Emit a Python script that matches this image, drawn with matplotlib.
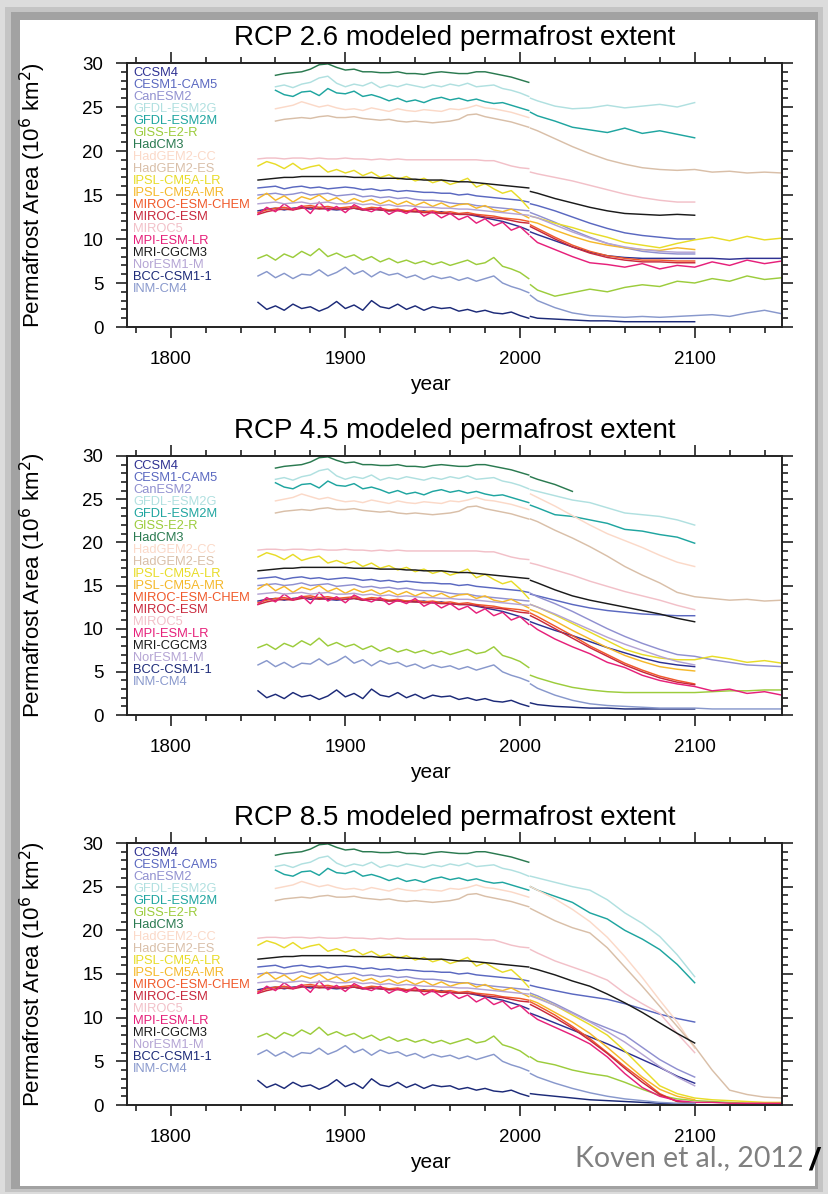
import numpy as np
import matplotlib
matplotlib.use('Agg')
import matplotlib.pyplot as plt
from matplotlib.patches import Rectangle
from matplotlib.ticker import MultipleLocator

N = None

models = ['CCSM4', 'CESM1-CAM5', 'CanESM2', 'GFDL-ESM2G', 'GFDL-ESM2M', 'GISS-E2-R',
          'HadCM3', 'HadGEM2-CC', 'HadGEM2-ES', 'IPSL-CM5A-LR', 'IPSL-CM5A-MR',
          'MIROC-ESM-CHEM', 'MIROC-ESM', 'MIROC5', 'MPI-ESM-LR', 'MRI-CGCM3',
          'NorESM1-M', 'BCC-CSM1-1', 'INM-CM4']

colors = ['#2e3192', '#5a68c0', '#9090d0', '#b0e0e0', '#1fa5a0', '#9ccc3c',
          '#2a7a50', '#fbd9c8', '#d9bfa8', '#e8dc28', '#f5b82a',
          '#f0592a', '#c8283c', '#f2c0c8', '#e6207a', '#1a1a1a',
          '#b4a4d4', '#1c2a78', '#8898cc']

hist_years = [1850, 1855, 1860, 1865, 1870, 1875, 1880, 1885, 1890, 1895, 1900, 1905,
              1910, 1915, 1920, 1925, 1930, 1935, 1940, 1945, 1950, 1955, 1960, 1965,
              1970, 1975, 1980, 1985, 1990, 1995, 2000, 2005]

fut_years = [2006, 2010, 2020, 2030, 2040, 2050, 2060, 2070, 2080, 2090, 2100,
             2110, 2120, 2130, 2140, 2150]

hist_area = [
    [13.2, 13.4, 13.5, 13.3, 13.5, 13.6, 13.4, 13.5, 13.4, 13.3, 13.4, 13.5, 13.3, 13.4, 13.3, 13.2, 13.3, 13.2, 13.1, 13.2, 13.0, 13.1, 12.9, 12.8, 12.8, 12.6, 12.4, 12.2, 12.0, 11.7, 11.4, 11.0],
    [15.8, 15.9, 16.0, 15.7, 15.9, 16.0, 15.8, 15.9, 15.7, 15.8, 15.9, 15.8, 15.6, 15.7, 15.5, 15.6, 15.4, 15.5, 15.4, 15.3, 15.3, 15.2, 15.2, 15.0, 15.1, 14.9, 14.8, 14.7, 14.6, 14.5, 14.4, 14.2],
    [15.0, 15.1, 15.2, 15.0, 15.1, 15.3, 15.0, 15.1, 15.2, 14.9, 15.0, 15.1, 14.8, 14.9, 14.7, 14.8, 14.6, 14.7, 14.5, 14.4, 14.4, 14.3, 14.1, 14.0, 14.0, 13.8, 13.7, 13.6, 13.5, 13.4, 13.3, 13.2],
    [N, N, 27.3, 27.5, 27.2, 27.6, 27.8, 28.3, 28.5, 27.7, 27.3, 27.6, 27.4, 27.8, 27.2, 27.5, 27.3, 27.6, 27.4, 27.2, 27.5, 27.3, 27.6, 27.4, 27.7, 27.3, 27.4, 27.5, 27.1, 26.9, 26.6, 26.2],
    [N, N, 26.9, 26.4, 26.2, 26.7, 26.8, 26.3, 27.1, 26.6, 26.5, 26.8, 26.2, 26.4, 26.1, 25.7, 26.0, 25.6, 25.8, 25.5, 25.9, 26.1, 25.8, 26.0, 25.7, 25.9, 25.6, 25.4, 25.5, 25.2, 24.9, 24.6],
    [7.8, 8.2, 7.6, 8.3, 7.9, 8.6, 8.1, 8.9, 8.0, 8.4, 7.9, 8.2, 7.6, 8.0, 7.4, 7.8, 7.3, 7.6, 7.2, 7.5, 7.1, 7.4, 7.0, 7.3, 7.6, 7.1, 7.3, 7.9, 6.9, 6.6, 6.2, 5.5],
    [N, N, 28.6, 28.8, 28.9, 29.0, 29.3, 29.8, 29.9, 29.5, 29.2, 29.3, 29.0, 29.0, 28.9, 28.9, 29.0, 28.8, 28.8, 28.7, 28.9, 29.0, 28.9, 28.8, 28.8, 29.0, 29.0, 28.8, 28.6, 28.4, 28.1, 27.8],
    [N, N, 24.8, 25.0, 25.2, 25.6, 25.3, 25.0, 25.2, 24.9, 24.7, 24.8, 24.6, 24.9, 24.7, 24.5, 24.8, 24.6, 24.5, 24.7, 24.6, 24.5, 24.8, 24.7, 24.9, 25.2, 24.9, 24.8, 24.6, 24.4, 24.1, 23.8],
    [N, N, 23.4, 23.6, 23.7, 23.8, 23.7, 23.9, 24.0, 23.8, 23.8, 23.9, 23.7, 23.6, 23.5, 23.6, 23.4, 23.3, 23.4, 23.3, 23.2, 23.3, 23.4, 23.6, 24.1, 24.2, 23.9, 23.7, 23.5, 23.3, 23.0, 22.7],
    [18.3, 18.8, 18.5, 18.0, 18.6, 17.9, 18.2, 18.4, 17.6, 17.9, 17.5, 17.8, 17.2, 17.6, 17.0, 17.3, 16.8, 17.1, 16.6, 16.9, 16.4, 16.7, 16.2, 16.5, 16.9, 15.9, 16.3, 15.7, 15.2, 15.5, 14.6, 13.5],
    [14.6, 15.2, 14.4, 14.9, 14.2, 14.8, 14.5, 15.0, 14.3, 14.7, 14.1, 14.6, 14.2, 14.5, 14.0, 14.4, 13.9, 14.3, 13.8, 14.2, 13.7, 14.1, 13.6, 13.9, 14.0, 13.5, 13.8, 13.3, 13.1, 13.4, 12.9, 12.4],
    [13.0, 13.3, 13.5, 13.6, 13.4, 13.7, 13.8, 13.6, 13.7, 13.5, 13.6, 13.7, 13.4, 13.6, 13.5, 13.3, 13.4, 13.2, 13.3, 13.1, 13.2, 13.0, 13.1, 12.9, 13.0, 12.8, 12.7, 12.6, 12.4, 12.3, 12.2, 12.0],
    [12.8, 13.1, 13.3, 13.4, 13.3, 13.5, 13.6, 13.4, 13.5, 13.4, 13.4, 13.5, 13.3, 13.4, 13.3, 13.2, 13.2, 13.1, 13.1, 13.0, 13.0, 12.9, 12.9, 12.8, 12.8, 12.7, 12.5, 12.4, 12.3, 12.1, 11.9, 11.8],
    [19.1, 19.2, 19.2, 19.1, 19.2, 19.2, 19.1, 19.2, 19.1, 19.1, 19.2, 19.1, 19.1, 19.0, 19.1, 19.0, 19.1, 19.0, 19.0, 19.0, 19.0, 19.0, 19.0, 19.0, 19.0, 19.0, 18.9, 18.9, 18.6, 18.3, 18.1, 18.0],
    [12.8, 13.6, 13.1, 14.0, 13.3, 13.8, 12.9, 14.2, 13.2, 13.7, 13.0, 13.9, 13.4, 13.1, 13.6, 12.8, 13.3, 12.9, 13.5, 12.6, 13.1, 12.4, 12.9, 12.2, 12.6, 11.8, 12.3, 11.5, 11.9, 11.0, 11.4, 10.5],
    [16.7, 16.8, 16.9, 17.0, 17.0, 17.1, 17.1, 17.1, 17.1, 17.1, 17.1, 17.0, 17.0, 17.0, 16.9, 16.9, 16.9, 16.8, 16.8, 16.7, 16.7, 16.7, 16.6, 16.5, 16.5, 16.4, 16.3, 16.2, 16.1, 16.0, 15.9, 15.8],
    [14.0, 14.1, 14.2, 14.0, 14.1, 14.2, 14.0, 14.1, 14.2, 14.0, 14.0, 14.1, 13.9, 14.0, 13.8, 13.9, 13.7, 13.8, 13.7, 13.6, 13.6, 13.5, 13.5, 13.4, 13.4, 13.3, 13.2, 13.1, 13.0, 12.9, 12.8, 12.7],
    [2.8, 2.0, 2.4, 1.9, 2.6, 2.1, 2.3, 1.8, 2.2, 2.9, 2.1, 2.5, 1.9, 3.0, 2.3, 2.1, 2.6, 2.0, 2.4, 1.9, 2.3, 2.1, 2.2, 1.8, 2.0, 1.7, 1.9, 1.6, 1.5, 1.7, 1.3, 1.0],
    [5.8, 6.3, 5.6, 6.1, 5.5, 6.0, 5.9, 6.5, 5.8, 6.2, 6.8, 6.0, 6.4, 5.7, 6.3, 5.9, 6.1, 5.6, 5.9, 5.4, 5.8, 5.5, 5.7, 5.3, 5.6, 5.2, 5.5, 5.8, 5.0, 4.6, 4.3, 3.9],
]

rcp26_area = [
    [10.8, 10.5, 9.8, 9.1, 8.5, 8.1, 7.9, 7.8, 7.8, 7.8, 7.8, 7.8, 7.7, 7.8, 7.8, 7.8],
    [14.0, 13.8, 13.2, 12.5, 11.8, 11.2, 10.7, 10.4, 10.2, 10.0, 10.0, N, N, N, N, N],
    [13.0, 12.7, 11.9, 11.0, 10.2, 9.5, 9.0, 8.6, 8.4, 8.3, 8.3, N, N, N, N, N],
    [26.0, 25.7, 25.1, 24.8, 24.9, 25.2, 24.9, 25.1, 25.3, 25.0, 25.5, N, N, N, N, N],
    [24.4, 24.0, 23.4, 22.7, 22.4, 22.1, 22.6, 22.0, 22.3, 21.9, 21.5, N, N, N, N, N],
    [4.8, 4.2, 3.5, 3.9, 4.3, 4.0, 4.5, 4.8, 4.6, 5.2, 5.0, 5.5, 5.2, 5.8, 5.4, 5.6],
    [N, N, N, N, N, N, N, N, N, N, N, N, N, N, N, N],
    [N, N, N, N, N, N, N, N, N, N, N, N, N, N, N, N],
    [22.6, 22.3, 21.4, 20.5, 19.7, 19.0, 18.5, 18.1, 17.9, 17.8, 17.9, 17.6, 17.7, 17.5, 17.6, 17.5],
    [12.6, 12.4, 11.8, 11.3, 10.7, 10.2, 9.6, 9.3, 9.0, 9.5, 9.9, 10.2, 9.8, 10.3, 9.9, 10.1],
    [12.0, 11.8, 11.0, 10.3, 9.7, 9.3, 9.0, 8.8, 8.7, 9.0, 8.8, N, N, N, N, N],
    [11.6, 11.2, 10.2, 9.3, 8.6, 8.1, 7.8, 7.6, 7.6, 7.5, 7.5, N, N, N, N, N],
    [11.4, 11.0, 10.0, 9.1, 8.4, 7.9, 7.6, 7.4, 7.4, 7.3, 7.3, N, N, N, N, N],
    [17.6, 17.4, 17.0, 16.6, 16.1, 15.6, 15.1, 14.7, 14.4, 14.2, 14.2, N, N, N, N, N],
    [10.3, 9.6, 8.8, 8.0, 7.3, 7.1, 6.8, 7.2, 6.6, 7.0, 6.8, 7.4, 7.0, 7.6, 7.2, 7.5],
    [15.4, 15.2, 14.6, 14.1, 13.6, 13.2, 12.9, 12.8, 12.7, 12.8, 12.7, N, N, N, N, N],
    [12.6, 12.4, 11.6, 10.8, 10.1, 9.5, 9.1, 8.8, 8.6, 8.5, 8.5, N, N, N, N, N],
    [1.2, 1.0, 0.9, 0.8, 0.7, 0.7, 0.6, 0.6, 0.6, 0.6, 0.6, N, N, N, N, N],
    [3.6, 3.0, 2.2, 1.6, 1.3, 1.2, 1.1, 1.2, 1.1, 1.2, 1.3, 1.4, 1.2, 1.6, 1.9, 1.5],
]

rcp45_area = [
    [10.8, 10.5, 9.8, 9.2, 8.5, 7.8, 7.2, 6.6, 6.1, 5.8, 5.6, N, N, N, N, N],
    [14.0, 13.8, 13.3, 12.8, 12.4, 12.1, 11.9, 11.7, 11.6, 11.5, 11.5, N, N, N, N, N],
    [14.1, 13.7, 12.9, 12.0, 11.0, 10.0, 9.1, 8.3, 7.6, 7.0, 6.8, 6.4, 6.1, 5.8, 5.7, 5.6],
    [26.1, 25.9, 25.4, 24.9, 24.6, 24.0, 23.4, 23.2, 23.0, 22.6, 22.0, N, N, N, N, N],
    [24.3, 24.0, 23.2, 23.0, 22.6, 22.2, 21.5, 21.3, 20.9, 20.6, 19.9, N, N, N, N, N],
    [4.6, 4.3, 3.7, 3.2, 2.9, 2.7, 2.6, 2.6, 2.6, 2.6, 2.6, 2.7, 2.8, 2.8, 2.9, 2.9],
    [27.6, 27.3, 26.7, 25.9, N, N, N, N, N, N, N, N, N, N, N, N],
    [25.6, 25.2, 24.2, 23.1, 22.0, 21.0, 20.2, 19.4, 18.5, 17.7, 17.2, N, N, N, N, N],
    [22.7, 22.4, 21.4, 20.5, 19.5, 18.4, 17.2, 16.2, 15.3, 14.2, 13.7, 13.5, 13.3, 13.4, 13.2, 13.3],
    [12.8, 12.5, 11.6, 10.6, 9.6, 8.6, 7.6, 7.0, 6.6, 6.4, 6.4, 6.8, 6.5, 6.1, 6.3, 6.0],
    [12.2, 11.9, 10.9, 9.8, 8.8, 7.8, 6.9, 6.2, 5.6, 5.3, 5.1, N, N, N, N, N],
    [11.8, 11.4, 10.3, 9.2, 8.0, 7.0, 6.0, 5.2, 4.5, 4.0, 3.6, N, N, N, N, N],
    [11.5, 11.1, 10.0, 8.9, 7.8, 6.8, 5.8, 5.0, 4.3, 3.8, 3.5, N, N, N, N, N],
    [17.6, 17.4, 16.8, 16.2, 15.5, 14.9, 14.3, 13.8, 13.3, 12.7, 12.2, N, N, N, N, N],
    [10.5, 9.9, 8.8, 7.9, 7.1, 6.1, 5.5, 4.6, 4.0, 3.6, 3.3, 2.8, 3.0, 2.5, 2.7, 2.3],
    [15.6, 15.3, 14.5, 13.8, 13.3, 12.9, 12.5, 12.1, 11.7, 11.2, 10.8, N, N, N, N, N],
    [12.8, 12.5, 11.7, 10.8, 9.9, 9.0, 8.2, 7.5, 6.8, 6.2, 5.8, N, N, N, N, N],
    [1.4, 1.2, 1.0, 0.9, 0.8, 0.8, 0.7, 0.7, 0.7, 0.7, 0.7, N, N, N, N, N],
    [3.6, 3.1, 2.3, 1.7, 1.3, 1.1, 1.0, 0.9, 0.8, 0.8, 0.8, 0.7, 0.7, 0.7, 0.7, 0.7],
]

rcp85_area = [
    [10.5, 10.2, 9.4, 8.6, 7.8, 7.0, 6.1, 5.2, 4.3, 3.3, 2.5, N, N, N, N, N],
    [13.7, 13.5, 13.1, 12.7, 12.4, 12.1, 11.6, 11.0, 10.4, 9.9, 9.5, N, N, N, N, N],
    [12.8, 12.5, 11.6, 10.6, 9.6, 8.8, 8.0, 6.6, 5.2, 4.1, 3.2, N, N, N, N, N],
    [26.2, 26.0, 25.5, 25.0, 24.6, 23.5, 22.0, 20.8, 19.3, 17.2, 14.7, N, N, N, N, N],
    [25.0, 24.6, 23.9, 23.2, 22.0, 21.3, 20.0, 19.0, 17.8, 16.1, 14.0, N, N, N, N, N],
    [5.5, 5.0, 4.6, 4.0, 3.6, 3.3, 2.6, 1.8, 1.1, 0.7, 0.5, 0.4, 0.3, 0.2, 0.2, 0.1],
    [N, N, N, N, N, N, N, N, N, N, N, N, N, N, N, N],
    [25.0, 24.6, 23.6, 22.4, 21.0, 19.2, 17.0, 14.6, 12.0, 9.5, 6.5, N, N, N, N, N],
    [22.5, 22.1, 21.1, 20.3, 19.7, 18.0, 15.8, 13.6, 11.3, 9.0, 6.7, 4.0, 1.7, 1.2, 0.9, 0.8],
    [12.6, 12.3, 11.4, 10.3, 9.2, 8.0, 6.2, 4.2, 2.2, 1.3, 0.8, 0.6, 0.5, 0.4, 0.3, 0.3],
    [12.0, 11.7, 10.6, 9.5, 8.2, 6.6, 4.9, 3.2, 1.8, 1.0, 0.6, N, N, N, N, N],
    [11.8, 11.4, 10.3, 9.0, 7.6, 6.0, 4.4, 2.9, 1.3, 0.4, 0.2, N, N, N, N, N],
    [11.5, 11.1, 10.0, 8.8, 7.4, 5.9, 4.2, 2.6, 1.2, 0.4, 0.2, N, N, N, N, N],
    [17.8, 17.4, 16.5, 15.8, 15.1, 14.3, 12.8, 11.6, 10.5, 8.2, 6.0, N, N, N, N, N],
    [10.4, 9.8, 8.9, 8.0, 7.0, 5.5, 3.6, 2.0, 1.0, 0.5, 0.3, 0.3, 0.2, 0.2, 0.2, 0.2],
    [15.7, 15.5, 14.9, 14.2, 13.6, 12.7, 11.7, 10.6, 9.4, 8.2, 7.1, N, N, N, N, N],
    [12.5, 12.2, 11.4, 10.5, 9.5, 8.4, 7.2, 5.8, 4.4, 3.2, 2.2, N, N, N, N, N],
    [1.3, 1.2, 1.0, 0.8, 0.6, 0.5, 0.4, 0.3, 0.2, 0.1, 0.1, N, N, N, N, N],
    [3.6, 3.2, 2.5, 1.9, 1.4, 1.0, 0.7, 0.5, 0.3, 0.2, 0.2, N, N, N, N, N],
]

titles = ['RCP 2.6 modeled permafrost extent',
          'RCP 4.5 modeled permafrost extent',
          'RCP 8.5 modeled permafrost extent']
scenarios = [rcp26_area, rcp45_area, rcp85_area]

# ---------------------------------------------------------------- figure
W, H = 829, 1194
plt.rcParams['font.family'] = ['Liberation Sans', 'DejaVu Sans']
fig = plt.figure(figsize=(W / 100, H / 100), dpi=100)
fig.patch.set_facecolor('#dcdcdc')


def frect(x0, y0, x1, y1, color, z=0):
    fig.add_artist(Rectangle((x0 / W, 1 - y1 / H), (x1 - x0) / W, (y1 - y0) / H,
                             transform=fig.transFigure, facecolor=color,
                             edgecolor='none', zorder=z))


# slide shadow and white page
frect(5, 7, 823, 1192, '#c4c4c4', -3)
frect(11, 12, 818, 1189, '#a2a2a2', -2)
frect(20, 20, 815, 1186, 'white', -1)

# axes pixel boxes: left, top, right, bottom
boxes = [(127, 63, 782, 327), (127, 456, 782, 715), (127, 843, 782, 1105)]

for k, (box, fut, title) in enumerate(zip(boxes, scenarios, titles)):
    l, t, r, b = box
    ax = fig.add_axes([l / W, 1 - b / H, (r - l) / W, (b - t) / H])
    hpx = b - t
    for m in range(len(models)):
        hv = np.array(hist_area[m], dtype=float)
        fv = np.array(fut[m], dtype=float)
        ax.plot(hist_years, hv, color=colors[m], lw=1.05, solid_joinstyle='round')
        ax.plot(fut_years, fv, color=colors[m], lw=1.05, solid_joinstyle='round')
    ax.set_xlim(1775, 2150)
    ax.set_ylim(0, 30)
    ax.xaxis.set_major_locator(MultipleLocator(100))
    ax.xaxis.set_minor_locator(MultipleLocator(20))
    ax.yaxis.set_major_locator(MultipleLocator(5))
    ax.yaxis.set_minor_locator(MultipleLocator(1))
    ax.tick_params(which='both', direction='out', top=True, right=True,
                   labeltop=False, labelright=False, width=1.2, color='#222222')
    ax.tick_params(which='major', length=8, labelsize=13.5, pad=9)
    ax.tick_params(which='minor', length=4)
    for s in ax.spines.values():
        s.set_linewidth(1.4)
        s.set_color('#222222')
    ax.set_ylabel('Permafrost Area (10$^6$ km$^2$)', fontsize=16)
    ax.yaxis.set_label_coords(-0.121, 0.5)
    ax.set_xlabel('year', fontsize=15)
    ax.xaxis.set_label_coords(0.463, -48 / hpx)
    ax.text(0.5, 1 + 25 / hpx, title, transform=ax.transAxes, ha='center',
            va='center', fontsize=20)
    for m, name in enumerate(models):
        ax.text(6 / (r - l), 1 - (10 + 12 * m) / hpx, name, color=colors[m],
                transform=ax.transAxes, ha='left', va='center', fontsize=9.3,
                family=['Liberation Sans', 'DejaVu Sans'])

fig.text(575 / W, 1 - 1158 / H, 'Koven et al., 2012', fontsize=20.5,
         color='#808080', ha='left', va='center', family=['Lato', 'DejaVu Sans'])
fig.text(809 / W, 1 - 1162 / H, '/', fontsize=22, color='black', ha='left',
         va='center', fontweight='bold', fontstyle='italic')

fig.savefig('out.png', dpi=100, facecolor=fig.get_facecolor())
